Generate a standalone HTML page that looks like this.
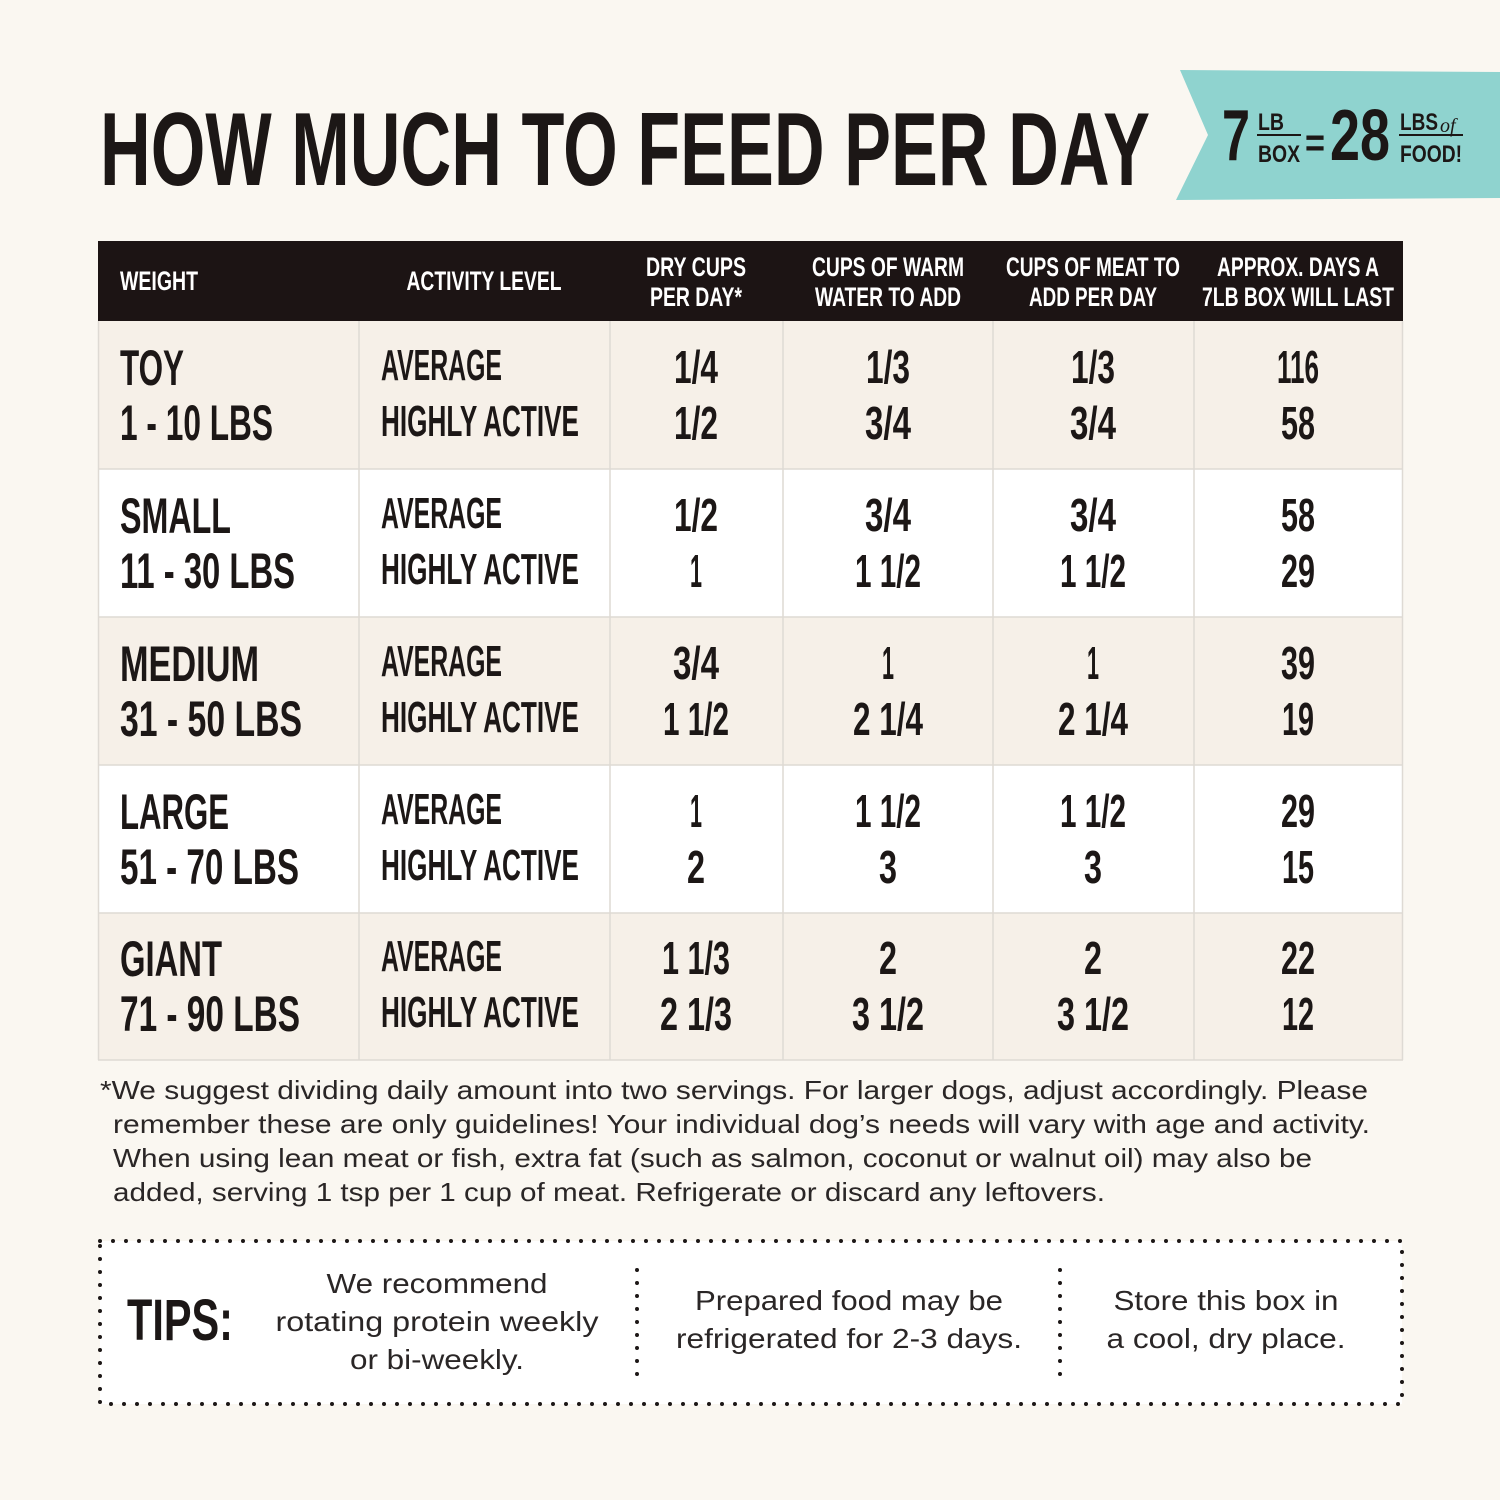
<!DOCTYPE html>
<html><head><meta charset="utf-8"><style>
html,body{margin:0;padding:0;background:#faf7f1;}
svg{display:block}
.c{font-family:"Liberation Sans",sans-serif;font-weight:bold;fill:#1c1716}
.h{font-family:"Liberation Sans",sans-serif;font-weight:bold;fill:#fff;font-size:27px}
.r{font-family:"Liberation Sans",sans-serif;fill:#2a2626;font-size:26px}
.t{font-family:"Liberation Sans",sans-serif;fill:#2a2626;font-size:28px}
</style></head><body>
<svg width="1500" height="1500" viewBox="0 0 1500 1500" xmlns="http://www.w3.org/2000/svg">
<rect width="1500" height="1500" fill="#faf7f1"/>
<text class="c" x="100" y="185" font-size="104" textLength="1050" lengthAdjust="spacingAndGlyphs">HOW MUCH TO FEED PER DAY</text>
<polygon points="1180,70 1500,72 1500,198 1176,200 1208,135" fill="#8fd3cf"/>
<text class="c" x="1222" y="160" font-size="72" textLength="28" lengthAdjust="spacingAndGlyphs">7</text>
<text class="c" x="1258" y="130" font-size="24" textLength="26" lengthAdjust="spacingAndGlyphs">LB</text>
<rect x="1257" y="134" width="44" height="2" fill="#1c1716"/>
<text class="c" x="1258" y="162" font-size="24" textLength="42" lengthAdjust="spacingAndGlyphs">BOX</text>
<text class="c" x="1305" y="156" font-size="40" textLength="20" lengthAdjust="spacingAndGlyphs">=</text>
<text class="c" x="1330" y="160" font-size="72" textLength="60" lengthAdjust="spacingAndGlyphs">28</text>
<text class="c" x="1400" y="130" font-size="24" textLength="38" lengthAdjust="spacingAndGlyphs">LBS</text>
<text x="1440" y="132" font-family="Liberation Serif,serif" font-style="italic" font-size="20" fill="#1c1716">of</text>
<rect x="1399" y="134" width="64" height="2" fill="#1c1716"/>
<text class="c" x="1400" y="162" font-size="24" textLength="62" lengthAdjust="spacingAndGlyphs">FOOD!</text>

<!-- table -->
<rect x="98" y="241" width="1305" height="80" fill="#1c1414"/>
<rect x="98" y="321" width="1305" height="148" fill="#f6f0e8"/>
<rect x="98" y="469" width="1305" height="148" fill="#ffffff"/>
<rect x="98" y="617" width="1305" height="148" fill="#f6f0e8"/>
<rect x="98" y="765" width="1305" height="148" fill="#ffffff"/>
<rect x="98" y="913" width="1305" height="147" fill="#f6f0e8"/>
<g stroke="#dedad4" stroke-width="1.5">
<line x1="98.5" y1="321" x2="98.5" y2="1060"/><line x1="1402.5" y1="321" x2="1402.5" y2="1060"/>
<line x1="359" y1="321" x2="359" y2="1060"/><line x1="610" y1="321" x2="610" y2="1060"/>
<line x1="783" y1="321" x2="783" y2="1060"/><line x1="993" y1="321" x2="993" y2="1060"/>
<line x1="1194" y1="321" x2="1194" y2="1060"/>
<line x1="98" y1="469" x2="1403" y2="469"/><line x1="98" y1="617" x2="1403" y2="617"/>
<line x1="98" y1="765" x2="1403" y2="765"/><line x1="98" y1="913" x2="1403" y2="913"/>
<line x1="98" y1="1060" x2="1403" y2="1060"/>
</g>
<text class="h" x="120" y="290" textLength="78" lengthAdjust="spacingAndGlyphs">WEIGHT</text>
<text class="h" x="484" y="290" text-anchor="middle" textLength="155" lengthAdjust="spacingAndGlyphs">ACTIVITY LEVEL</text>
<text class="h" x="696" y="276" text-anchor="middle" textLength="100" lengthAdjust="spacingAndGlyphs">DRY CUPS</text>
<text class="h" x="696" y="306" text-anchor="middle" textLength="92" lengthAdjust="spacingAndGlyphs">PER DAY*</text>
<text class="h" x="888" y="276" text-anchor="middle" textLength="152" lengthAdjust="spacingAndGlyphs">CUPS OF WARM</text>
<text class="h" x="888" y="306" text-anchor="middle" textLength="146" lengthAdjust="spacingAndGlyphs">WATER TO ADD</text>
<text class="h" x="1093" y="276" text-anchor="middle" textLength="174" lengthAdjust="spacingAndGlyphs">CUPS OF MEAT TO</text>
<text class="h" x="1093" y="306" text-anchor="middle" textLength="128" lengthAdjust="spacingAndGlyphs">ADD PER DAY</text>
<text class="h" x="1298" y="276" text-anchor="middle" textLength="162" lengthAdjust="spacingAndGlyphs">APPROX. DAYS A</text>
<text class="h" x="1298" y="306" text-anchor="middle" textLength="192" lengthAdjust="spacingAndGlyphs">7LB BOX WILL LAST</text>

<g class="c" font-size="50">
<text x="120" y="385" textLength="64" lengthAdjust="spacingAndGlyphs">TOY</text>
<text x="120" y="440" textLength="153" lengthAdjust="spacingAndGlyphs">1 - 10 LBS</text>
<text x="120" y="533" textLength="111" lengthAdjust="spacingAndGlyphs">SMALL</text>
<text x="120" y="588" textLength="175" lengthAdjust="spacingAndGlyphs">11 - 30 LBS</text>
<text x="120" y="681" textLength="139" lengthAdjust="spacingAndGlyphs">MEDIUM</text>
<text x="120" y="736" textLength="182" lengthAdjust="spacingAndGlyphs">31 - 50 LBS</text>
<text x="120" y="829" textLength="109" lengthAdjust="spacingAndGlyphs">LARGE</text>
<text x="120" y="884" textLength="179" lengthAdjust="spacingAndGlyphs">51 - 70 LBS</text>
<text x="120" y="976" textLength="102" lengthAdjust="spacingAndGlyphs">GIANT</text>
<text x="120" y="1031" textLength="180" lengthAdjust="spacingAndGlyphs">71 - 90 LBS</text>
</g>
<g class="c" font-size="44">
<text x="381" y="380" textLength="121" lengthAdjust="spacingAndGlyphs">AVERAGE</text>
<text x="381" y="436" textLength="198" lengthAdjust="spacingAndGlyphs">HIGHLY ACTIVE</text>
<text x="381" y="528" textLength="121" lengthAdjust="spacingAndGlyphs">AVERAGE</text>
<text x="381" y="584" textLength="198" lengthAdjust="spacingAndGlyphs">HIGHLY ACTIVE</text>
<text x="381" y="676" textLength="121" lengthAdjust="spacingAndGlyphs">AVERAGE</text>
<text x="381" y="732" textLength="198" lengthAdjust="spacingAndGlyphs">HIGHLY ACTIVE</text>
<text x="381" y="824" textLength="121" lengthAdjust="spacingAndGlyphs">AVERAGE</text>
<text x="381" y="880" textLength="198" lengthAdjust="spacingAndGlyphs">HIGHLY ACTIVE</text>
<text x="381" y="971" textLength="121" lengthAdjust="spacingAndGlyphs">AVERAGE</text>
<text x="381" y="1027" textLength="198" lengthAdjust="spacingAndGlyphs">HIGHLY ACTIVE</text>
</g>
<g class="c" font-size="46" text-anchor="middle">
<!-- row 1 -->
<text x="696" y="383" textLength="44" lengthAdjust="spacingAndGlyphs">1/4</text>
<text x="696" y="439" textLength="44" lengthAdjust="spacingAndGlyphs">1/2</text>
<text x="888" y="383" textLength="44" lengthAdjust="spacingAndGlyphs">1/3</text>
<text x="888" y="439" textLength="46" lengthAdjust="spacingAndGlyphs">3/4</text>
<text x="1093" y="383" textLength="44" lengthAdjust="spacingAndGlyphs">1/3</text>
<text x="1093" y="439" textLength="46" lengthAdjust="spacingAndGlyphs">3/4</text>
<text x="1298" y="383" textLength="42" lengthAdjust="spacingAndGlyphs">116</text>
<text x="1298" y="439" textLength="34" lengthAdjust="spacingAndGlyphs">58</text>
<!-- row 2 -->
<text x="696" y="531" textLength="44" lengthAdjust="spacingAndGlyphs">1/2</text>
<text x="696" y="587" textLength="12" lengthAdjust="spacingAndGlyphs">1</text>
<text x="888" y="531" textLength="46" lengthAdjust="spacingAndGlyphs">3/4</text>
<text x="888" y="587" textLength="66" lengthAdjust="spacingAndGlyphs">1 1/2</text>
<text x="1093" y="531" textLength="46" lengthAdjust="spacingAndGlyphs">3/4</text>
<text x="1093" y="587" textLength="66" lengthAdjust="spacingAndGlyphs">1 1/2</text>
<text x="1298" y="531" textLength="34" lengthAdjust="spacingAndGlyphs">58</text>
<text x="1298" y="587" textLength="34" lengthAdjust="spacingAndGlyphs">29</text>
<!-- row 3 -->
<text x="696" y="679" textLength="46" lengthAdjust="spacingAndGlyphs">3/4</text>
<text x="696" y="735" textLength="66" lengthAdjust="spacingAndGlyphs">1 1/2</text>
<text x="888" y="679" textLength="12" lengthAdjust="spacingAndGlyphs">1</text>
<text x="888" y="735" textLength="70" lengthAdjust="spacingAndGlyphs">2 1/4</text>
<text x="1093" y="679" textLength="12" lengthAdjust="spacingAndGlyphs">1</text>
<text x="1093" y="735" textLength="70" lengthAdjust="spacingAndGlyphs">2 1/4</text>
<text x="1298" y="679" textLength="34" lengthAdjust="spacingAndGlyphs">39</text>
<text x="1298" y="735" textLength="32" lengthAdjust="spacingAndGlyphs">19</text>
<!-- row 4 -->
<text x="696" y="827" textLength="12" lengthAdjust="spacingAndGlyphs">1</text>
<text x="696" y="883" textLength="18" lengthAdjust="spacingAndGlyphs">2</text>
<text x="888" y="827" textLength="66" lengthAdjust="spacingAndGlyphs">1 1/2</text>
<text x="888" y="883" textLength="18" lengthAdjust="spacingAndGlyphs">3</text>
<text x="1093" y="827" textLength="66" lengthAdjust="spacingAndGlyphs">1 1/2</text>
<text x="1093" y="883" textLength="18" lengthAdjust="spacingAndGlyphs">3</text>
<text x="1298" y="827" textLength="34" lengthAdjust="spacingAndGlyphs">29</text>
<text x="1298" y="883" textLength="32" lengthAdjust="spacingAndGlyphs">15</text>
<!-- row 5 -->
<text x="696" y="974" textLength="68" lengthAdjust="spacingAndGlyphs">1 1/3</text>
<text x="696" y="1030" textLength="72" lengthAdjust="spacingAndGlyphs">2 1/3</text>
<text x="888" y="974" textLength="18" lengthAdjust="spacingAndGlyphs">2</text>
<text x="888" y="1030" textLength="72" lengthAdjust="spacingAndGlyphs">3 1/2</text>
<text x="1093" y="974" textLength="18" lengthAdjust="spacingAndGlyphs">2</text>
<text x="1093" y="1030" textLength="72" lengthAdjust="spacingAndGlyphs">3 1/2</text>
<text x="1298" y="974" textLength="34" lengthAdjust="spacingAndGlyphs">22</text>
<text x="1298" y="1030" textLength="32" lengthAdjust="spacingAndGlyphs">12</text>
</g>

<!-- footnote -->
<text class="r" x="100" y="1099" textLength="1268" lengthAdjust="spacingAndGlyphs">*We suggest dividing daily amount into two servings. For larger dogs, adjust accordingly. Please</text>
<text class="r" x="113" y="1133" textLength="1257" lengthAdjust="spacingAndGlyphs">remember these are only guidelines! Your individual dog’s needs will vary with age and activity.</text>
<text class="r" x="113" y="1167" textLength="1199" lengthAdjust="spacingAndGlyphs">When using lean meat or fish, extra fat (such as salmon, coconut or walnut oil) may also be</text>
<text class="r" x="113" y="1201" textLength="992" lengthAdjust="spacingAndGlyphs">added, serving 1 tsp per 1 cup of meat. Refrigerate or discard any leftovers.</text>

<!-- tips box -->
<rect x="100" y="1241" width="1302" height="163" fill="#ffffff"/>
<g stroke="#1c1716" stroke-width="4" stroke-linecap="round" stroke-dasharray="0 13" fill="none">
<rect x="100" y="1241" width="1302" height="163"/>
<line x1="637" y1="1270" x2="637" y2="1382"/>
<line x1="1060" y1="1270" x2="1060" y2="1382"/>
</g>
<text class="c" x="127" y="1340" font-size="58" textLength="106" lengthAdjust="spacingAndGlyphs">TIPS:</text>
<g class="t" text-anchor="middle">
<text x="437" y="1293" textLength="221" lengthAdjust="spacingAndGlyphs">We recommend</text>
<text x="437" y="1331" textLength="323" lengthAdjust="spacingAndGlyphs">rotating protein weekly</text>
<text x="437" y="1369" textLength="174" lengthAdjust="spacingAndGlyphs">or bi-weekly.</text>
<text x="849" y="1310" textLength="308" lengthAdjust="spacingAndGlyphs">Prepared food may be</text>
<text x="849" y="1348" textLength="346" lengthAdjust="spacingAndGlyphs">refrigerated for 2-3 days.</text>
<text x="1226" y="1310" textLength="225" lengthAdjust="spacingAndGlyphs">Store this box in</text>
<text x="1226" y="1348" textLength="239" lengthAdjust="spacingAndGlyphs">a cool, dry place.</text>
</g>
</svg>
</body></html>
